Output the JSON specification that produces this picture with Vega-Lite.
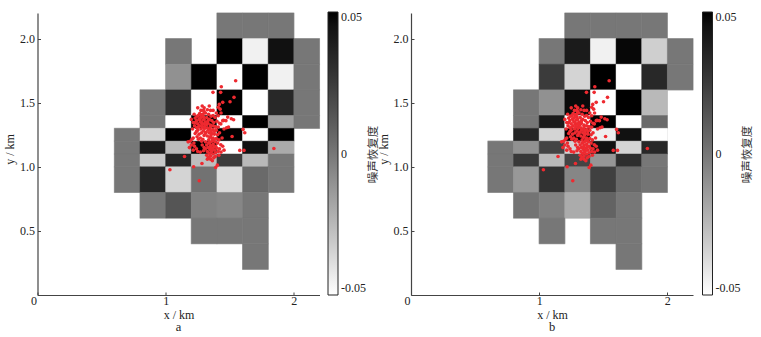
{
"$schema":"https://vega.github.io/schema/vega-lite/v6.json",
"background":"white",
"padding":{"left":3.5,"top":12,"right":0,"bottom":0},
"bounds":"flush",
"spacing":91.5,
"resolve":{"scale":{"color":"independent"}},
"config":{"view":{"stroke":null},"font":"Liberation Serif",
"axis":{"grid":false,"domainColor":"#444","tickColor":"#444","domainWidth":1.2,"tickWidth":1,"labelFont":"Liberation Serif","titleFont":"Liberation Serif","labelFontSize":12,"titleFontSize":12,"labelColor":"#222","titleColor":"#222","titleFontWeight":"normal"},
"legend":{"labelFont":"Liberation Serif","labelFontSize":12,"labelColor":"#222"},
"title":{"font":"Liberation Serif","fontSize":12.5,"fontWeight":"normal","color":"#222"}},
"datasets":{
"pts":[
{"x":1.546,"y":1.672},{"x":1.434,"y":1.625},{"x":1.369,"y":1.581},{"x":1.429,"y":1.581},{"x":1.533,"y":1.542},{"x":1.502,"y":1.508},{"x":1.445,"y":1.503},{"x":1.418,"y":1.487},{"x":1.844,"y":1.143},{"x":1.611,"y":1.128},{"x":1.578,"y":1.128},{"x":1.617,"y":1.266},{"x":1.604,"y":1.292},{"x":1.518,"y":1.237},{"x":1.147,"y":1.081},{"x":1.033,"y":0.977},{"x":1.262,"y":0.891},{"x":1.218,"y":1.0},{"x":1.283,"y":1.026},{"x":1.39,"y":0.995},{"x":1.403,"y":1.013},{"x":1.364,"y":1.047},{"x":1.53,"y":1.367},{"x":1.484,"y":1.388},{"x":1.452,"y":1.362},{"x":1.49,"y":1.31},{"x":1.475,"y":1.305},{"x":1.512,"y":1.375},{"x":1.47,"y":1.36},
{"x":1.41,"y":1.465},{"x":1.425,"y":1.45},{"x":1.432,"y":1.42},{"x":1.395,"y":1.42},{"x":1.41,"y":1.398},{"x":1.445,"y":1.36},{"x":1.43,"y":1.335},{"x":1.455,"y":1.295},{"x":1.42,"y":1.265},{"x":1.44,"y":1.225},{"x":1.43,"y":1.172},{"x":1.445,"y":1.16},{"x":1.42,"y":1.14},{"x":1.455,"y":1.13},{"x":1.41,"y":1.12},{"x":1.432,"y":1.115},{"x":1.415,"y":1.09},{"x":1.388,"y":1.08},
{"x":1.2,"y":1.37},{"x":1.215,"y":1.345},{"x":1.23,"y":1.38},{"x":1.245,"y":1.395},{"x":1.222,"y":1.41},{"x":1.25,"y":1.46},{"x":1.285,"y":1.475},{"x":1.3,"y":1.46},{"x":1.275,"y":1.44},{"x":1.295,"y":1.44},{"x":1.325,"y":1.445},{"x":1.34,"y":1.475},{"x":1.31,"y":1.42},{"x":1.265,"y":1.415},{"x":1.28,"y":1.405},{"x":1.335,"y":1.41},{"x":1.355,"y":1.395},{"x":1.37,"y":1.4},{"x":1.385,"y":1.385},{"x":1.24,"y":1.36},{"x":1.26,"y":1.375},{"x":1.275,"y":1.385},{"x":1.295,"y":1.39},{"x":1.32,"y":1.385},{"x":1.34,"y":1.37},{"x":1.36,"y":1.36},{"x":1.375,"y":1.345},{"x":1.4,"y":1.355},{"x":1.225,"y":1.32},{"x":1.25,"y":1.335},{"x":1.27,"y":1.35},{"x":1.29,"y":1.365},{"x":1.31,"y":1.35},{"x":1.33,"y":1.34},{"x":1.35,"y":1.325},{"x":1.385,"y":1.315},{"x":1.21,"y":1.295},{"x":1.24,"y":1.305},{"x":1.265,"y":1.32},{"x":1.285,"y":1.33},{"x":1.305,"y":1.315},{"x":1.325,"y":1.305},{"x":1.345,"y":1.295},{"x":1.37,"y":1.29},{"x":1.395,"y":1.285},{"x":1.25,"y":1.285},{"x":1.275,"y":1.295},{"x":1.295,"y":1.28},{"x":1.315,"y":1.27},{"x":1.34,"y":1.265},{"x":1.36,"y":1.26},{"x":1.38,"y":1.255},{"x":1.405,"y":1.25},{"x":1.23,"y":1.26},{"x":1.26,"y":1.255},{"x":1.28,"y":1.265},{"x":1.3,"y":1.245},{"x":1.325,"y":1.24},{"x":1.35,"y":1.235},{"x":1.37,"y":1.225},{"x":1.395,"y":1.22},{"x":1.415,"y":1.21},{"x":1.215,"y":1.225},{"x":1.245,"y":1.235},{"x":1.27,"y":1.225},{"x":1.29,"y":1.215},{"x":1.335,"y":1.21},{"x":1.36,"y":1.2},{"x":1.385,"y":1.195},{"x":1.405,"y":1.185},{"x":1.19,"y":1.2},{"x":1.175,"y":1.195},{"x":1.205,"y":1.215},{"x":1.22,"y":1.185},{"x":1.2,"y":1.17},{"x":1.185,"y":1.15},{"x":1.225,"y":1.16},{"x":1.24,"y":1.14},{"x":1.215,"y":1.13},{"x":1.25,"y":1.12},{"x":1.27,"y":1.115},{"x":1.285,"y":1.17},{"x":1.3,"y":1.15},{"x":1.32,"y":1.17},{"x":1.335,"y":1.185},{"x":1.35,"y":1.165},{"x":1.37,"y":1.175},{"x":1.39,"y":1.16},{"x":1.33,"y":1.15},{"x":1.345,"y":1.135},{"x":1.365,"y":1.145},{"x":1.38,"y":1.13},{"x":1.4,"y":1.145},{"x":1.325,"y":1.12},{"x":1.34,"y":1.105},{"x":1.355,"y":1.115},{"x":1.37,"y":1.1},{"x":1.39,"y":1.11},{"x":1.32,"y":1.09},{"x":1.335,"y":1.075},{"x":1.35,"y":1.085},{"x":1.325,"y":1.06},{"x":1.35,"y":1.06},{"x":1.375,"y":1.07},{"x":1.31,"y":1.14},{"x":1.295,"y":1.125},{"x":1.28,"y":1.2},{"x":1.31,"y":1.195},{"x":1.355,"y":1.28},{"x":1.33,"y":1.36},{"x":1.29,"y":1.41},{"x":1.255,"y":1.4},{"x":1.35,"y":1.44},{"x":1.37,"y":1.44},{"x":1.39,"y":1.31},{"x":1.41,"y":1.31},{"x":1.42,"y":1.34},{"x":1.24,"y":1.275},{"x":1.255,"y":1.215},{"x":1.37,"y":1.32},{"x":1.305,"y":1.3},{"x":1.32,"y":1.33},{"x":1.3,"y":1.37},{"x":1.265,"y":1.365},{"x":1.345,"y":1.23},{"x":1.375,"y":1.21},{"x":1.3,"y":1.43},{"x":1.23,"y":1.345},{"x":1.28,"y":1.345},{"x":1.3,"y":1.335},{"x":1.255,"y":1.31},{"x":1.285,"y":1.31},{"x":1.33,"y":1.285},{"x":1.35,"y":1.31},{"x":1.31,"y":1.26},{"x":1.38,"y":1.275},{"x":1.355,"y":1.25},{"x":1.365,"y":1.215},{"x":1.345,"y":1.19},{"x":1.375,"y":1.155},{"x":1.36,"y":1.125},{"x":1.345,"y":1.155}
],
"a":[
{"x0":1.4,"x1":1.6,"y0":2.0,"y1":2.2,"v":0},{"x0":1.6,"x1":1.8,"y0":2.0,"y1":2.2,"v":0},{"x0":1.8,"x1":2.0,"y0":2.0,"y1":2.2,"v":0},
{"x0":1.0,"x1":1.2,"y0":1.8,"y1":2.0,"v":0},{"x0":1.4,"x1":1.6,"y0":1.8,"y1":2.0,"v":0.05},{"x0":1.6,"x1":1.8,"y0":1.8,"y1":2.0,"v":-0.045},{"x0":1.8,"x1":2.0,"y0":1.8,"y1":2.0,"v":0.045},{"x0":2.0,"x1":2.2,"y0":1.8,"y1":2.0,"v":0},
{"x0":1.0,"x1":1.2,"y0":1.6,"y1":1.8,"v":-0.01},{"x0":1.2,"x1":1.4,"y0":1.6,"y1":1.8,"v":0.05},{"x0":1.4,"x1":1.6,"y0":1.6,"y1":1.8,"v":-0.05},{"x0":1.6,"x1":1.8,"y0":1.6,"y1":1.8,"v":0.05},{"x0":1.8,"x1":2.0,"y0":1.6,"y1":1.8,"v":-0.045},{"x0":2.0,"x1":2.2,"y0":1.6,"y1":1.8,"v":0},
{"x0":0.8,"x1":1.0,"y0":1.4,"y1":1.6,"v":0},{"x0":1.0,"x1":1.2,"y0":1.4,"y1":1.6,"v":0.03},{"x0":1.2,"x1":1.4,"y0":1.4,"y1":1.6,"v":-0.05},{"x0":1.4,"x1":1.6,"y0":1.4,"y1":1.6,"v":0.05},{"x0":1.6,"x1":1.8,"y0":1.4,"y1":1.6,"v":-0.05},{"x0":1.8,"x1":2.0,"y0":1.4,"y1":1.6,"v":0.034},{"x0":2.0,"x1":2.2,"y0":1.4,"y1":1.6,"v":0},
{"x0":0.8,"x1":1.0,"y0":1.3,"y1":1.4,"v":0},{"x0":1.0,"x1":1.2,"y0":1.3,"y1":1.4,"v":-0.05},{"x0":1.2,"x1":1.4,"y0":1.3,"y1":1.4,"v":0.05},{"x0":1.4,"x1":1.6,"y0":1.3,"y1":1.4,"v":-0.05},{"x0":1.6,"x1":1.8,"y0":1.3,"y1":1.4,"v":0.05},{"x0":1.8,"x1":2.0,"y0":1.3,"y1":1.4,"v":-0.015},{"x0":2.0,"x1":2.2,"y0":1.3,"y1":1.4,"v":0},
{"x0":0.6,"x1":0.8,"y0":1.2,"y1":1.3,"v":0},{"x0":0.8,"x1":1.0,"y0":1.2,"y1":1.3,"v":-0.035},{"x0":1.0,"x1":1.2,"y0":1.2,"y1":1.3,"v":0.05},{"x0":1.2,"x1":1.4,"y0":1.2,"y1":1.3,"v":-0.05},{"x0":1.4,"x1":1.6,"y0":1.2,"y1":1.3,"v":0.05},{"x0":1.6,"x1":1.8,"y0":1.2,"y1":1.3,"v":-0.05},{"x0":1.8,"x1":2.0,"y0":1.2,"y1":1.3,"v":0.05},
{"x0":0.6,"x1":0.8,"y0":1.1,"y1":1.2,"v":0},{"x0":0.8,"x1":1.0,"y0":1.1,"y1":1.2,"v":0.04},{"x0":1.0,"x1":1.2,"y0":1.1,"y1":1.2,"v":-0.026},{"x0":1.2,"x1":1.4,"y0":1.1,"y1":1.2,"v":0.05},{"x0":1.4,"x1":1.6,"y0":1.1,"y1":1.2,"v":-0.05},{"x0":1.6,"x1":1.8,"y0":1.1,"y1":1.2,"v":0.045},{"x0":1.8,"x1":2.0,"y0":1.1,"y1":1.2,"v":-0.02},
{"x0":0.6,"x1":0.8,"y0":1.0,"y1":1.1,"v":0},{"x0":0.8,"x1":1.0,"y0":1.0,"y1":1.1,"v":-0.031},{"x0":1.0,"x1":1.2,"y0":1.0,"y1":1.1,"v":0.035},{"x0":1.2,"x1":1.4,"y0":1.0,"y1":1.1,"v":-0.027},{"x0":1.4,"x1":1.6,"y0":1.0,"y1":1.1,"v":0.025},{"x0":1.6,"x1":1.8,"y0":1.0,"y1":1.1,"v":-0.025},{"x0":1.8,"x1":2.0,"y0":1.0,"y1":1.1,"v":0},
{"x0":0.6,"x1":0.8,"y0":0.8,"y1":1.0,"v":0},{"x0":0.8,"x1":1.0,"y0":0.8,"y1":1.0,"v":0.035},{"x0":1.0,"x1":1.2,"y0":0.8,"y1":1.0,"v":-0.035},{"x0":1.2,"x1":1.4,"y0":0.8,"y1":1.0,"v":0.002},{"x0":1.4,"x1":1.6,"y0":0.8,"y1":1.0,"v":-0.037},{"x0":1.6,"x1":1.8,"y0":0.8,"y1":1.0,"v":0.005},{"x0":1.8,"x1":2.0,"y0":0.8,"y1":1.0,"v":0},
{"x0":0.8,"x1":1.0,"y0":0.6,"y1":0.8,"v":0},{"x0":1.0,"x1":1.2,"y0":0.6,"y1":0.8,"v":0.014},{"x0":1.2,"x1":1.4,"y0":0.6,"y1":0.8,"v":-0.004},{"x0":1.4,"x1":1.6,"y0":0.6,"y1":0.8,"v":-0.006},{"x0":1.6,"x1":1.8,"y0":0.6,"y1":0.8,"v":0},
{"x0":1.2,"x1":1.4,"y0":0.4,"y1":0.6,"v":0},{"x0":1.4,"x1":1.6,"y0":0.4,"y1":0.6,"v":0},{"x0":1.6,"x1":1.8,"y0":0.4,"y1":0.6,"v":0},
{"x0":1.6,"x1":1.8,"y0":0.2,"y1":0.4,"v":0}
],
"b":[
{"x0":1.2,"x1":1.4,"y0":2.0,"y1":2.2,"v":0},{"x0":1.4,"x1":1.6,"y0":2.0,"y1":2.2,"v":0},{"x0":1.6,"x1":1.8,"y0":2.0,"y1":2.2,"v":0},{"x0":1.8,"x1":2.0,"y0":2.0,"y1":2.2,"v":0},
{"x0":1.0,"x1":1.2,"y0":1.8,"y1":2.0,"v":0},{"x0":1.2,"x1":1.4,"y0":1.8,"y1":2.0,"v":0.04},{"x0":1.4,"x1":1.6,"y0":1.8,"y1":2.0,"v":-0.045},{"x0":1.6,"x1":1.8,"y0":1.8,"y1":2.0,"v":0.048},{"x0":1.8,"x1":2.0,"y0":1.8,"y1":2.0,"v":-0.033},{"x0":2.0,"x1":2.2,"y0":1.8,"y1":2.0,"v":0},
{"x0":1.0,"x1":1.2,"y0":1.6,"y1":1.8,"v":0.025},{"x0":1.2,"x1":1.4,"y0":1.6,"y1":1.8,"v":-0.035},{"x0":1.4,"x1":1.6,"y0":1.6,"y1":1.8,"v":0.05},{"x0":1.6,"x1":1.8,"y0":1.6,"y1":1.8,"v":-0.05},{"x0":1.8,"x1":2.0,"y0":1.6,"y1":1.8,"v":0.034},{"x0":2.0,"x1":2.2,"y0":1.6,"y1":1.8,"v":0},
{"x0":0.8,"x1":1.0,"y0":1.4,"y1":1.6,"v":0},{"x0":1.0,"x1":1.2,"y0":1.4,"y1":1.6,"v":-0.01},{"x0":1.2,"x1":1.4,"y0":1.4,"y1":1.6,"v":0.047},{"x0":1.4,"x1":1.6,"y0":1.4,"y1":1.6,"v":-0.05},{"x0":1.6,"x1":1.8,"y0":1.4,"y1":1.6,"v":0.05},{"x0":1.8,"x1":2.0,"y0":1.4,"y1":1.6,"v":-0.025},
{"x0":0.8,"x1":1.0,"y0":1.3,"y1":1.4,"v":0},{"x0":1.0,"x1":1.2,"y0":1.3,"y1":1.4,"v":0.04},{"x0":1.2,"x1":1.4,"y0":1.3,"y1":1.4,"v":-0.05},{"x0":1.4,"x1":1.6,"y0":1.3,"y1":1.4,"v":0.05},{"x0":1.6,"x1":1.8,"y0":1.3,"y1":1.4,"v":-0.05},{"x0":1.8,"x1":2.0,"y0":1.3,"y1":1.4,"v":0.005},
{"x0":0.8,"x1":1.0,"y0":1.2,"y1":1.3,"v":0.035},{"x0":1.0,"x1":1.2,"y0":1.2,"y1":1.3,"v":-0.035},{"x0":1.2,"x1":1.4,"y0":1.2,"y1":1.3,"v":0.05},{"x0":1.4,"x1":1.6,"y0":1.2,"y1":1.3,"v":-0.044},{"x0":1.6,"x1":1.8,"y0":1.2,"y1":1.3,"v":0.045},{"x0":1.8,"x1":2.0,"y0":1.2,"y1":1.3,"v":-0.05},
{"x0":0.6,"x1":0.8,"y0":1.1,"y1":1.2,"v":0},{"x0":0.8,"x1":1.0,"y0":1.1,"y1":1.2,"v":-0.01},{"x0":1.0,"x1":1.2,"y0":1.1,"y1":1.2,"v":0.021},{"x0":1.2,"x1":1.4,"y0":1.1,"y1":1.2,"v":-0.035},{"x0":1.4,"x1":1.6,"y0":1.1,"y1":1.2,"v":0.045},{"x0":1.6,"x1":1.8,"y0":1.1,"y1":1.2,"v":-0.035},{"x0":1.8,"x1":2.0,"y0":1.1,"y1":1.2,"v":0.034},
{"x0":0.6,"x1":0.8,"y0":1.0,"y1":1.1,"v":0},{"x0":0.8,"x1":1.0,"y0":1.0,"y1":1.1,"v":0.026},{"x0":1.0,"x1":1.2,"y0":1.0,"y1":1.1,"v":-0.025},{"x0":1.2,"x1":1.4,"y0":1.0,"y1":1.1,"v":0.021},{"x0":1.4,"x1":1.6,"y0":1.0,"y1":1.1,"v":-0.012},{"x0":1.6,"x1":1.8,"y0":1.0,"y1":1.1,"v":0.031},{"x0":1.8,"x1":2.0,"y0":1.0,"y1":1.1,"v":0},
{"x0":0.6,"x1":0.8,"y0":0.8,"y1":1.0,"v":0},{"x0":0.8,"x1":1.0,"y0":0.8,"y1":1.0,"v":-0.013},{"x0":1.0,"x1":1.2,"y0":0.8,"y1":1.0,"v":0.029},{"x0":1.2,"x1":1.4,"y0":0.8,"y1":1.0,"v":-0.006},{"x0":1.4,"x1":1.6,"y0":0.8,"y1":1.0,"v":0.023},{"x0":1.6,"x1":1.8,"y0":0.8,"y1":1.0,"v":0.005},{"x0":1.8,"x1":2.0,"y0":0.8,"y1":1.0,"v":0.001},
{"x0":0.8,"x1":1.0,"y0":0.6,"y1":0.8,"v":0.001},{"x0":1.0,"x1":1.2,"y0":0.6,"y1":0.8,"v":-0.004},{"x0":1.2,"x1":1.4,"y0":0.6,"y1":0.8,"v":-0.02},{"x0":1.4,"x1":1.6,"y0":0.6,"y1":0.8,"v":0.008},{"x0":1.6,"x1":1.8,"y0":0.6,"y1":0.8,"v":0},
{"x0":1.0,"x1":1.2,"y0":0.4,"y1":0.6,"v":0},{"x0":1.4,"x1":1.6,"y0":0.4,"y1":0.6,"v":0},{"x0":1.6,"x1":1.8,"y0":0.4,"y1":0.6,"v":0},
{"x0":1.6,"x1":1.8,"y0":0.2,"y1":0.4,"v":0}
]},
"hconcat":[
{"width":282,"height":282,"title":{"text":"a","orient":"bottom","anchor":"middle","offset":1},
"resolve":{"axis":{"y":"independent"}},
"layer":[
{"data":{"name":"a"},"mark":{"type":"rect","stroke":"#d4d4d4","strokeWidth":1.2},
"encoding":{
"x":{"field":"x0","type":"quantitative","scale":{"domain":[0,2.2],"nice":false},"axis":{"title":"x / km","values":[0,1,2],"format":"d","tickSize":-3,"labelPadding":3,"titlePadding":3,"labelOffset":{"condition":{"test":"datum.value===0","value":-7},"value":0}}},
"x2":{"field":"x1"},
"y":{"field":"y0","type":"quantitative","scale":{"domain":[0,2.2],"nice":false},"axis":{"title":"y / km","values":[0.5,1,1.5,2],"format":".1f","tickSize":-3,"labelPadding":6,"titlePadding":3,"titleY":136}},
"y2":{"field":"y1"},
"color":{"field":"v","type":"quantitative","scale":{"domain":[-0.05,0.05],"range":["#ffffff","#000000"]},"legend":{"orient":"none","legendX":290.5,"legendY":-1,"title":null,"direction":"vertical","gradientLength":283,"gradientThickness":10,"gradientStrokeColor":"#222","gradientStrokeWidth":1,"values":[-0.05,0,0.05],"labelOffset":3,"labelExpr":"datum.value===0?'0':(datum.value>0?'0.05':'-0.05')"}}}},
{"data":{"name":"a"},"mark":{"type":"rect","strokeWidth":0.5},
"encoding":{
"x":{"field":"x0","type":"quantitative"},
"x2":{"field":"x1"},
"y":{"field":"y0","type":"quantitative","axis":null},
"y2":{"field":"y1"},
"color":{"field":"v","type":"quantitative","scale":{"domain":[-0.05,0.05],"range":["#ffffff","#000000"]},"legend":null},
"stroke":{"field":"v","type":"quantitative","scale":{"domain":[-0.05,0.05],"range":["#ffffff","#000000"]},"legend":null}}},
{"data":{"name":"pts"},"mark":{"type":"circle","color":"#ee2a30","opacity":1,"size":13},
"encoding":{
"x":{"field":"x","type":"quantitative"},
"y":{"field":"y","type":"quantitative","axis":{"orient":"right","title":"噪声恢复度","titleFont":"Noto Sans CJK SC","titleFontSize":11.5,"titleColor":"#333","labels":false,"ticks":false,"domain":false,"titlePadding":59,"titleAngle":270}}}}
]},
{"width":282,"height":282,"title":{"text":"b","orient":"bottom","anchor":"middle","offset":1},
"resolve":{"axis":{"y":"independent"}},
"layer":[
{"data":{"name":"b"},"mark":{"type":"rect","stroke":"#d4d4d4","strokeWidth":1.2},
"encoding":{
"x":{"field":"x0","type":"quantitative","scale":{"domain":[0,2.2],"nice":false},"axis":{"title":"x / km","values":[0,1,2],"format":"d","tickSize":-3,"labelPadding":3,"titlePadding":3,"labelOffset":{"condition":{"test":"datum.value===0","value":-7},"value":0}}},
"x2":{"field":"x1"},
"y":{"field":"y0","type":"quantitative","scale":{"domain":[0,2.2],"nice":false},"axis":{"title":"y / km","values":[0.5,1,1.5,2],"format":".1f","tickSize":-3,"labelPadding":6,"titlePadding":3,"titleY":136}},
"y2":{"field":"y1"},
"color":{"field":"v","type":"quantitative","scale":{"domain":[-0.05,0.05],"range":["#ffffff","#000000"]},"legend":{"orient":"none","legendX":291.5,"legendY":-1,"title":null,"direction":"vertical","gradientLength":283,"gradientThickness":10,"gradientStrokeColor":"#222","gradientStrokeWidth":1,"values":[-0.05,0,0.05],"labelOffset":3,"labelExpr":"datum.value===0?'0':(datum.value>0?'0.05':'-0.05')"}}}},
{"data":{"name":"b"},"mark":{"type":"rect","strokeWidth":0.5},
"encoding":{
"x":{"field":"x0","type":"quantitative"},
"x2":{"field":"x1"},
"y":{"field":"y0","type":"quantitative","axis":null},
"y2":{"field":"y1"},
"color":{"field":"v","type":"quantitative","scale":{"domain":[-0.05,0.05],"range":["#ffffff","#000000"]},"legend":null},
"stroke":{"field":"v","type":"quantitative","scale":{"domain":[-0.05,0.05],"range":["#ffffff","#000000"]},"legend":null}}},
{"data":{"name":"pts"},"mark":{"type":"circle","color":"#ee2a30","opacity":1,"size":13},
"encoding":{
"x":{"field":"x","type":"quantitative"},
"y":{"field":"y","type":"quantitative","axis":{"orient":"right","title":"噪声恢复度","titleFont":"Noto Sans CJK SC","titleFontSize":11.5,"titleColor":"#333","labels":false,"ticks":false,"domain":false,"titlePadding":59,"titleAngle":270}}}}
]}
]
}
